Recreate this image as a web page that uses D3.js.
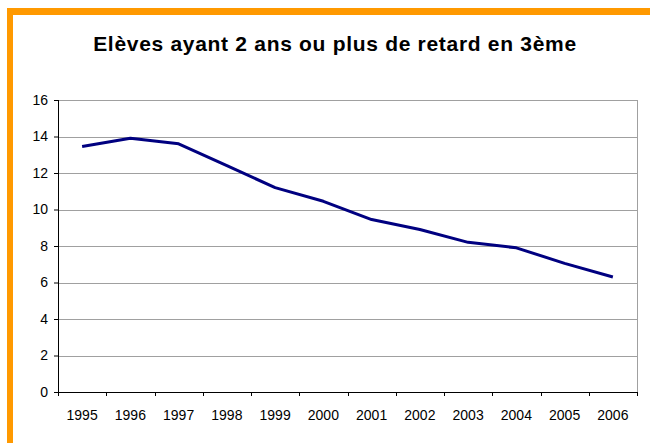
<!DOCTYPE html>
<html>
<head>
<meta charset="utf-8">
<script src="https://cdn.jsdelivr.net/npm/d3@7"></script>
<style>
  body { margin: 0; background: #fff; }
  svg { display: block; font-family: "Liberation Sans", Arial, sans-serif; }
</style>
</head>
<body>
<svg class="chart"></svg>
<script>
const graphWidth = 650;
const graphHeight = 443;

// data
const years = ['1995', '1996', '1997', '1998', '1999', '2000', '2001', '2002', '2003', '2004', '2005', '2006'];
const retard = [13.45, 13.9, 13.6, 12.4, 11.2, 10.45, 9.45, 8.9, 8.2, 7.9, 7.05, 6.3];
const yTicks = [0, 2, 4, 6, 8, 10, 12, 14, 16];

const margin = { top: 100, right: 13, bottom: 51, left: 58 };
const width = graphWidth - margin.left - margin.right;
const height = graphHeight - margin.top - margin.bottom;

const svg = d3.select('.chart')
  .attr('width', graphWidth)
  .attr('height', graphHeight);

//Orange frame on top and left
svg.append('rect')
  .attr('x', 7).attr('y', 8)
  .attr('width', graphWidth - 7).attr('height', 7)
  .attr('fill', '#ff9900');
svg.append('rect')
  .attr('x', 7).attr('y', 8)
  .attr('width', 6).attr('height', graphHeight - 8)
  .attr('fill', '#ff9900');

svg.append('text')
  .attr('x', 335)
  .attr('y', 51)
  .attr('text-anchor', 'middle')
  .style('font-size', '21px')
  .style('font-weight', 'bold')
  .style('letter-spacing', '0.7px')
  .text('Elèves ayant 2 ans ou plus de retard en 3ème');

const g = svg.append('g')
  .attr('transform', 'translate(' + margin.left + ',' + margin.top + ')');

const x = d3.scaleBand().domain(years).range([0, width]);
const y = d3.scaleLinear().domain([0, 16]).range([height, 0]);

//Grid lines
g.append('g')
  .selectAll('line')
  .data(yTicks.filter(d => d > 0))
  .enter()
  .append('line')
  .attr('x1', 0)
  .attr('x2', width)
  .attr('y1', d => Math.round(y(d)) + 0.5)
  .attr('y2', d => Math.round(y(d)) + 0.5)
  .attr('stroke', '#a0a0a0');

//Right border
g.append('line')
  .attr('x1', width + 0.5).attr('x2', width + 0.5)
  .attr('y1', 0).attr('y2', height)
  .attr('stroke', '#a0a0a0');

//Y axis
const yAxis = g.append('g')
  .call(d3.axisLeft(y).tickValues(yTicks).tickSize(4).tickPadding(6));
yAxis.select('.domain').attr('d', 'M0.5,0V' + height);
yAxis.selectAll('text').style('font-size', '14px').attr('fill', '#000');

//X axis, ticks between categories
const xAxis = g.append('g')
  .attr('transform', 'translate(0,' + height + ')')
  .call(d3.axisBottom(x).tickSize(0).tickPadding(18));
xAxis.select('.domain').attr('d', 'M0,0.5H' + width);
xAxis.selectAll('text').style('font-size', '14px').attr('fill', '#000');
xAxis.selectAll('line.sep')
  .data(years.concat(['end']))
  .enter()
  .append('line')
  .attr('class', 'sep')
  .attr('x1', (d, i) => Math.round(i * x.step()) + 0.5)
  .attr('x2', (d, i) => Math.round(i * x.step()) + 0.5)
  .attr('y1', 0)
  .attr('y2', 4)
  .attr('stroke', '#000');

//Line
const line = d3.line()
  .x((d, i) => x(years[i]) + x.bandwidth() / 2)
  .y(d => y(d));

g.append('path')
  .datum(retard)
  .attr('d', line)
  .attr('fill', 'none')
  .attr('stroke', '#000080')
  .attr('stroke-width', 3)
  .attr('stroke-linejoin', 'round');
</script>
</body>
</html>
